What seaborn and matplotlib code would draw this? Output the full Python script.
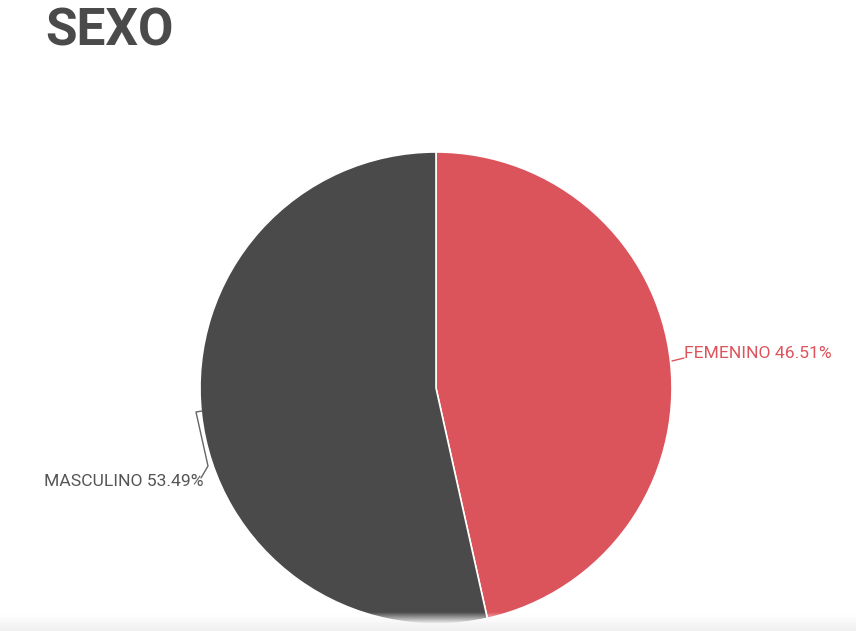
import numpy as np
import matplotlib
matplotlib.use("Agg")
import matplotlib.pyplot as plt
import seaborn as sns

# Data
categories = ["FEMENINO", "MASCULINO"]
values = [46.51, 53.49]
title = "SEXO"

sns.set_theme(style="white")
plt.rcParams['font.family'] = ['Roboto', 'DejaVu Sans']

colors = ["#DC545B", "#4A4A4A"]
text_colors = ["#DC545B", "#555555"]

W, H = 856, 631
fig = plt.figure(figsize=(W / 100, H / 100), dpi=100)
ax = fig.add_axes([0, 0, 1, 1])

cx, cy, r = 436, H - 388, 236
ax.pie(values, colors=colors, startangle=90, counterclock=False,
       center=(cx, cy), radius=r,
       wedgeprops=dict(edgecolor="white", linewidth=1.2))
ax.set_xlim(0, W)
ax.set_ylim(0, H)
ax.set_aspect("equal")
ax.axis("off")

# Title
fig.text(45 / W, 1 - 46 / H, title, fontsize=37, fontweight="bold",
         color="#4A4A4A", ha="left", va="baseline")

# Labels with leader lines
ax.plot([672, 684], [H - 361, H - 358], color=colors[0], lw=1)
ax.text(684, H - 354, f"{categories[0]} {values[0]:.2f}%", color=text_colors[0],
        fontsize=12.6, ha="left", va="center")

ax.plot([202, 196, 208, 201], [H - 411, H - 412, H - 466, H - 478],
        color="#666666", lw=1)
ax.text(44, H - 481, f"{categories[1]} {values[1]:.2f}%", color=text_colors[1],
        fontsize=12.6, ha="left", va="center")

# Bottom fade band (RGBA gradient: transparent at top -> light gray at bottom)
n = 64
t = np.linspace(0, 1, n)  # 0 at bottom, 1 at top
img = np.zeros((n, 1, 4))
shade = 0.94 + 0.06 * t
img[:, 0, 0] = shade
img[:, 0, 1] = shade
img[:, 0, 2] = shade
img[:, 0, 3] = np.clip((1 - t) * 1.6, 0, 1)
ax.imshow(img, extent=(0, W, 0, H - 612), aspect="auto", zorder=10,
          origin="lower", interpolation="bilinear")
ax.set_xlim(0, W)
ax.set_ylim(0, H)

fig.savefig("out.png", dpi=100)
